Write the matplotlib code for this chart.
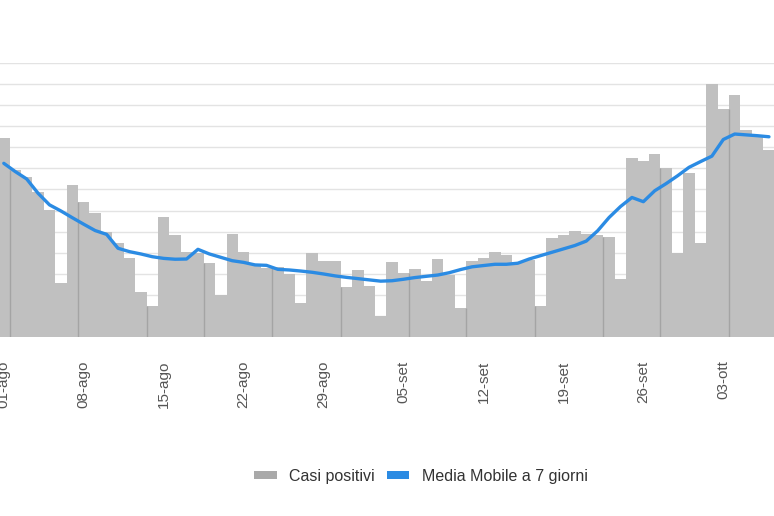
import matplotlib
matplotlib.use("Agg")
import matplotlib.pyplot as plt
from matplotlib.patches import Patch
import numpy as np

plt.rcParams['font.family'] = ['Liberation Sans', 'DejaVu Sans']

# casi positivi giornalieri (dal 01-ago al 07-ott)
casi = [47300, 39500, 38000, 34500, 30150, 12900, 36100, 32100, 29500, 25000,
        22250, 18850, 10600, 7450, 28550, 24200, 20250, 20000, 17500, 10000,
        24450, 20250, 17250, 16300, 16500, 14900, 8000, 19850, 18050, 18050,
        11850, 15900, 12000, 5000, 17900, 15100, 16250, 13350, 18450, 14700,
        6800, 18050, 18850, 20250, 19400, 17750, 18250, 7400, 23500, 24200,
        25250, 24500, 24200, 23650, 13700, 42400, 41800, 43500, 40100, 19900,
        38850, 22400, 60000, 54050, 57450, 49200, 47500, 44450]

# media mobile a 7 giorni
media = [41200, 39250, 37500, 34100, 31350, 29900, 28300, 26750, 25250, 24350,
         21050, 20250, 19700, 19050, 18650, 18450, 18500, 20800, 19700, 18900,
         18100, 17700, 17100, 17000, 16050, 15900, 15650, 15350, 14950, 14500,
         14150, 13850, 13550, 13250, 13350, 13700, 14100, 14400, 14700, 15250,
         16000, 16650, 16950, 17250, 17250, 17500, 18500, 19300, 20100, 20900,
         21700, 22750, 25200, 28350, 30950, 33100, 32100, 34700, 36400, 38250,
         40250, 41600, 42900, 46850, 48150, 47950, 47750, 47500]

tick_days = [0, 7, 14, 21, 28, 35, 42, 49, 56, 63]
tick_labels = ['01-ago', '08-ago', '15-ago', '22-ago', '29-ago',
               '05-set', '12-set', '19-set', '26-set', '03-ott']

# bordi piu scuri tra alcune barre (giorno dopo il quale cade il bordo)
edge_after = [0, 6, 12, 17, 23, 29, 35, 40, 46, 52, 57, 63]

days = np.arange(len(casi))

fig = plt.figure(figsize=(7.74, 5.16), dpi=100)
ax = fig.add_axes([0, 0.3469, 1, 0.531])

ax.bar(days, casi, width=1.0, color='#c0c0c0', edgecolor='none', zorder=2)
edges = [d + 0.5 for d in edge_after]
heights = [min(casi[d], casi[d + 1]) if d + 1 < len(casi) else casi[d] for d in edge_after]
ax.vlines(edges, 0, heights, color='#a4a4a4', lw=1, zorder=3)
ax.plot(days, media, color='#2b8be3', lw=2.4, zorder=4, solid_capstyle='round')

ax.set_xlim(-0.333, 67.44)
ax.set_ylim(0, 65000)
ax.set_yticks(np.arange(0, 65001, 5000))
ax.yaxis.grid(True, color='#e3e3e3', lw=1)
ax.set_axisbelow(True)
ax.set_yticklabels([])
ax.tick_params(axis='y', length=0)
for s in ax.spines.values():
    s.set_visible(False)

ax.set_xticks(tick_days)
ax.set_xticklabels(tick_labels, rotation=90, fontsize=11, color='#555555')
ax.tick_params(axis='x', length=0, pad=17)

handles = [Patch(facecolor='#a9a9a9', edgecolor='none'),
           Patch(facecolor='#2b8be3', edgecolor='none')]
fig.legend(handles, ['Casi positivi', 'Media Mobile a 7 giorni'],
           loc='center', bbox_to_anchor=(0.544, 0.0775), ncol=2, frameon=False,
           fontsize=11.5, handlelength=1.4, handleheight=0.4,
           handletextpad=0.8, columnspacing=0.75, labelcolor='#333333')

fig.savefig('out.png', dpi=100)
